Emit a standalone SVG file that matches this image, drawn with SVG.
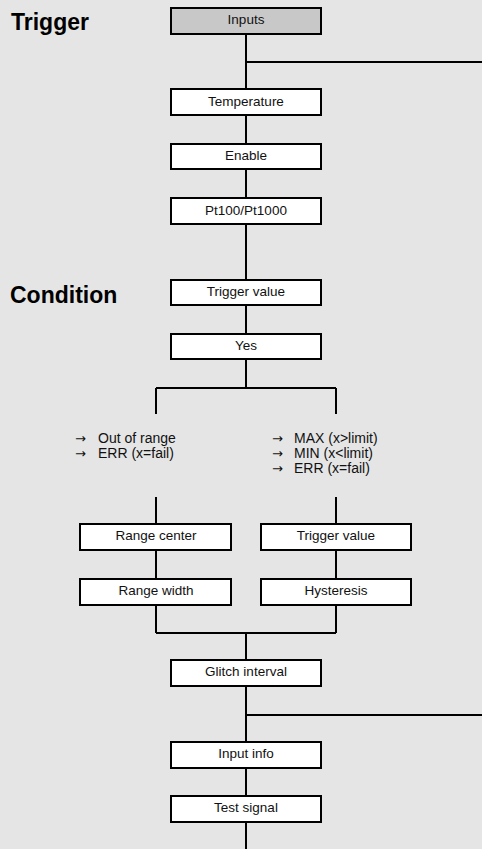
<svg xmlns="http://www.w3.org/2000/svg" width="482" height="849" viewBox="0 0 482 849">
<style>
.box{fill:#ffffff;stroke:#000;stroke-width:2}
.hdr{fill:#c8c8c8;stroke:#000;stroke-width:2}
.lbl{font-family:"Liberation Sans",Arial,sans-serif;font-size:13.5px;fill:#111;text-anchor:middle}
.ann{font-family:"Liberation Sans",Arial,sans-serif;font-size:14px;fill:#111}
.arr{font-family:"DejaVu Sans",sans-serif;font-size:13px}
.sec{font-family:"Liberation Sans",Arial,sans-serif;font-size:23px;font-weight:bold;fill:#000}
.ln{stroke:#000;stroke-width:2;fill:none}
</style>
<rect x="0" y="0" width="482" height="849" fill="#e5e5e5"/>
<text class="sec" x="11" y="30">Trigger</text>
<text class="sec" x="10" y="303">Condition</text>
<g id="connectors">
<path class="ln" d="M246 34V88M246 62H482M246 116V143M246 170V197M246 225V279M246 306V333M246 359V388M156 388H336M156 388V414M336 388V414"/>
<path class="ln" d="M156 497V523M336 497V523M156 551V578M336 551V578M156 606V633M336 606V633M156 633H336M246 633V659M246 687V741M246 715H482M246 769V795M246 823V849"/>
</g>
<g id="inputs"><rect class="hdr" x="171" y="8" width="150" height="26"/><text class="lbl" x="246" y="24">Inputs</text></g>
<g id="temperature"><rect class="box" x="171" y="89" width="150" height="26"/><text class="lbl" x="246" y="106">Temperature</text></g>
<g id="enable"><rect class="box" x="171" y="144" width="150" height="25"/><text class="lbl" x="246" y="160">Enable</text></g>
<g id="pt100"><rect class="box" x="171" y="198" width="150" height="26"/><text class="lbl" x="246" y="214.5">Pt100/Pt1000</text></g>
<g id="trigger-value"><rect class="box" x="171" y="280" width="150" height="25"/><text class="lbl" x="246" y="296">Trigger value</text></g>
<g id="yes"><rect class="box" x="171" y="334" width="150" height="25"/><text class="lbl" x="246" y="350">Yes</text></g>
<g id="range-notes">
<text class="ann" y="443"><tspan class="arr" x="75">→</tspan><tspan x="98">Out of range</tspan></text>
<text class="ann" y="458"><tspan class="arr" x="75">→</tspan><tspan x="98">ERR (x=fail)</tspan></text>
</g>
<g id="limit-notes">
<text class="ann" y="443"><tspan class="arr" x="272">→</tspan><tspan x="294">MAX (x&gt;limit)</tspan></text>
<text class="ann" y="458"><tspan class="arr" x="272">→</tspan><tspan x="294">MIN (x&lt;limit)</tspan></text>
<text class="ann" y="473"><tspan class="arr" x="272">→</tspan><tspan x="294">ERR (x=fail)</tspan></text>
</g>
<g id="range-center"><rect class="box" x="80" y="524" width="151" height="26"/><text class="lbl" x="156" y="540">Range center</text></g>
<g id="range-width"><rect class="box" x="80" y="579" width="151" height="26"/><text class="lbl" x="156" y="595">Range width</text></g>
<g id="trigger-value-2"><rect class="box" x="261" y="524" width="150" height="26"/><text class="lbl" x="336" y="540">Trigger value</text></g>
<g id="hysteresis"><rect class="box" x="261" y="579" width="150" height="26"/><text class="lbl" x="336" y="595">Hysteresis</text></g>
<g id="glitch-interval"><rect class="box" x="171" y="660" width="150" height="26"/><text class="lbl" x="246" y="676">Glitch interval</text></g>
<g id="input-info"><rect class="box" x="171" y="742" width="150" height="26"/><text class="lbl" x="246" y="758">Input info</text></g>
<g id="test-signal"><rect class="box" x="171" y="796" width="150" height="26"/><text class="lbl" x="246" y="812">Test signal</text></g>
</svg>
